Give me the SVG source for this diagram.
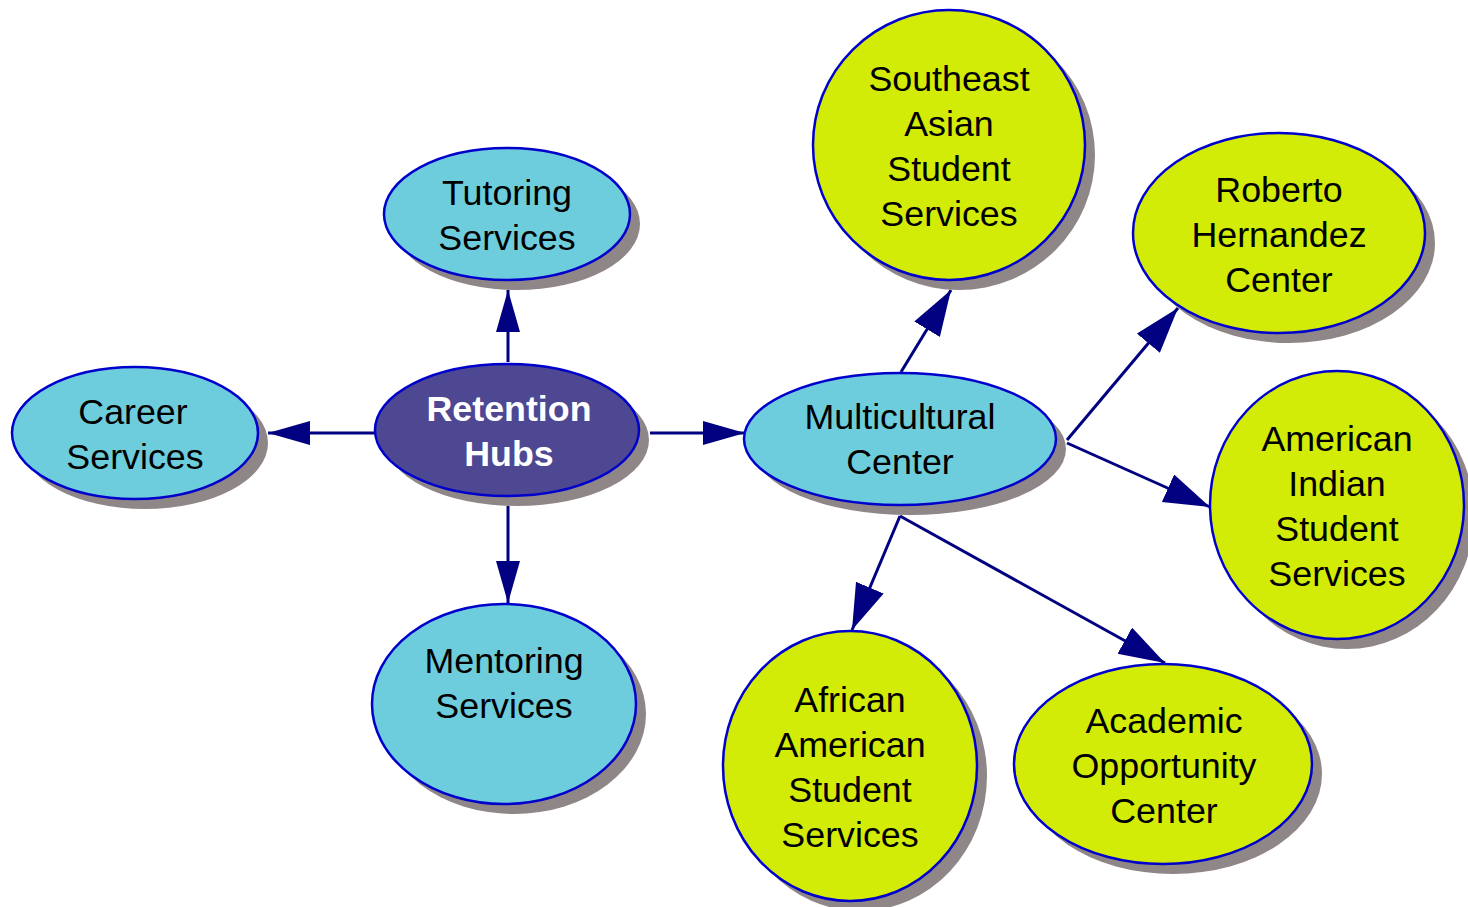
<svg xmlns="http://www.w3.org/2000/svg" width="1468" height="907" viewBox="0 0 1468 907">
<style>
.sh{fill:#8f8787}
.c{fill:#6ecddc;stroke:#0000cc;stroke-width:2.5}
.g{fill:#d3ec07;stroke:#0000cc;stroke-width:2.5}
.p{fill:#4e4892;stroke:#0000cc;stroke-width:2.5}
text{font-family:"Liberation Sans",Arial,sans-serif;font-size:35.8px;text-anchor:middle;fill:#000}
.w{fill:#fff;font-weight:bold}
#edges line{stroke:#000080;stroke-width:3;marker-end:url(#ah)}
#edges line.d{marker-end:url(#ahb)}
</style>
<defs>
<marker id="ah" markerUnits="userSpaceOnUse" markerWidth="44" markerHeight="26" refX="42" refY="12" orient="auto">
<path d="M0,0 L42,12 L0,24 z" fill="#000080"/>
</marker>
<marker id="ahb" markerUnits="userSpaceOnUse" markerWidth="48" markerHeight="32" refX="46" refY="15" orient="auto">
<path d="M0,0 L46,15 L0,30 z" fill="#000080"/>
</marker>
</defs>
<rect width="1468" height="907" fill="#fff"/>
<g id="edges">
<line x1="375" y1="433" x2="268" y2="433"/>
<line x1="508" y1="362" x2="508" y2="290"/>
<line x1="508" y1="506" x2="508" y2="603"/>
<line x1="650" y1="433" x2="745" y2="433"/>
<line class="d" x1="901" y1="372" x2="951" y2="290"/>
<line class="d" x1="1067" y1="440" x2="1178" y2="308"/>
<line class="d" x1="1067" y1="443" x2="1210" y2="507"/>
<line class="d" x1="900" y1="516" x2="852" y2="630"/>
<line class="d" x1="900" y1="516" x2="1165" y2="663"/>
</g>
<g id="career">
<ellipse class="sh" cx="145" cy="443" rx="123" ry="66"/>
<ellipse class="c" cx="135" cy="433" rx="123" ry="66"/>
<text x="133" y="424">Career</text><text x="135" y="469">Services</text>
</g>
<g id="retention">
<ellipse class="sh" cx="517" cy="440" rx="132" ry="66"/>
<ellipse class="p" cx="507" cy="430" rx="132" ry="66"/>
<text class="w" x="509" y="421">Retention</text><text class="w" x="509" y="466">Hubs</text>
</g>
<g id="tutoring">
<ellipse class="sh" cx="517" cy="224" rx="123" ry="66"/>
<ellipse class="c" cx="507" cy="214" rx="123" ry="66"/>
<text x="507" y="205">Tutoring</text><text x="507" y="250">Services</text>
</g>
<g id="mentoring">
<ellipse class="sh" cx="514" cy="714" rx="132" ry="100"/>
<ellipse class="c" cx="504" cy="704" rx="132" ry="100"/>
<text x="504" y="673">Mentoring</text><text x="504" y="718">Services</text>
</g>
<g id="multicultural">
<ellipse class="sh" cx="910" cy="449" rx="156" ry="66"/>
<ellipse class="c" cx="900" cy="439" rx="156" ry="66"/>
<text x="900" y="429">Multicultural</text><text x="900" y="474">Center</text>
</g>
<g id="southeast">
<ellipse class="sh" cx="959" cy="155" rx="136" ry="135"/>
<ellipse class="g" cx="949" cy="145" rx="136" ry="135"/>
<text x="949" y="91">Southeast</text><text x="949" y="136">Asian</text><text x="949" y="181">Student</text><text x="949" y="226">Services</text>
</g>
<g id="roberto">
<ellipse class="sh" cx="1289" cy="243" rx="146" ry="100"/>
<ellipse class="g" cx="1279" cy="233" rx="146" ry="100"/>
<text x="1279" y="202">Roberto</text><text x="1279" y="247">Hernandez</text><text x="1279" y="292">Center</text>
</g>
<g id="amindian">
<ellipse class="sh" cx="1347" cy="515" rx="127" ry="134"/>
<ellipse class="g" cx="1337" cy="505" rx="127" ry="134"/>
<text x="1337" y="451">American</text><text x="1337" y="496">Indian</text><text x="1337" y="541">Student</text><text x="1337" y="586">Services</text>
</g>
<g id="african">
<ellipse class="sh" cx="860" cy="776" rx="127" ry="135"/>
<ellipse class="g" cx="850" cy="766" rx="127" ry="135"/>
<text x="850" y="712">African</text><text x="850" y="757">American</text><text x="850" y="802">Student</text><text x="850" y="847">Services</text>
</g>
<g id="academic">
<ellipse class="sh" cx="1173" cy="774" rx="149" ry="100"/>
<ellipse class="g" cx="1163" cy="764" rx="149" ry="100"/>
<text x="1164" y="733">Academic</text><text x="1164" y="778">Opportunity</text><text x="1164" y="823">Center</text>
</g>
</svg>
